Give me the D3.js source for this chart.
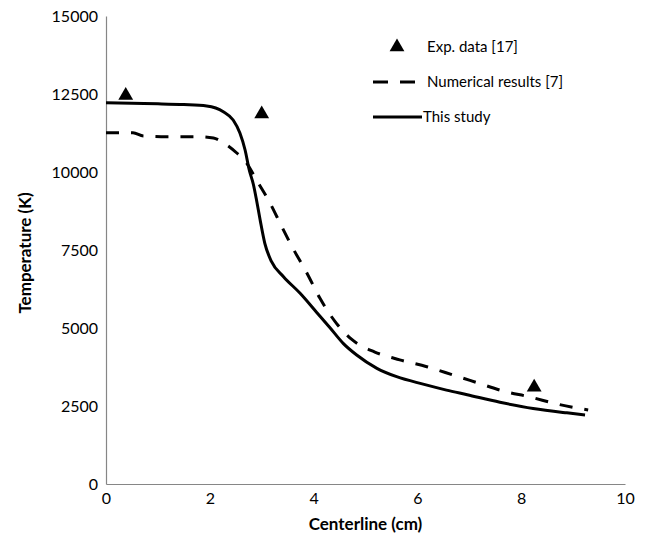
<!DOCTYPE html>
<html>
<head>
<meta charset="utf-8">
<script src="https://cdn.jsdelivr.net/npm/d3@7"></script>
<style>
  body { margin: 0; background: #fff; }
  text { font-family: Lato, "Open Sans", sans-serif; fill: #000; }
</style>
</head>
<body>
<script>
//chart data
var studyX = [0, 0.5, 1.0, 1.5, 1.94, 2.26, 2.45, 2.58, 2.68, 2.76, 2.84, 2.90, 2.97, 3.06, 3.19, 3.42, 3.74, 4.06, 4.32, 4.57, 4.83, 5.22, 5.60, 6.11, 6.56, 6.96, 7.59, 8.23, 8.88, 9.23];
var studyY = [12221, 12200, 12185, 12160, 12115, 11932, 11666, 11249, 10705, 10064, 9600, 9102, 8461, 7714, 7125, 6644, 6112, 5500, 5000, 4508, 4134, 3708, 3439, 3200, 3010, 2860, 2620, 2420, 2280, 2215];

var numX = [0, 0.52, 0.72, 1.17, 1.81, 2.07, 2.26, 2.52, 2.71, 2.90, 3.16, 3.39, 3.60, 3.87, 4.12, 4.44, 4.73, 5.18, 5.66, 6.18, 6.69, 7.17, 7.65, 8.17, 8.69, 9.29];
var numY = [11259, 11259, 11153, 11130, 11130, 11089, 10939, 10609, 10288, 9743, 9006, 8237, 7560, 6763, 5960, 5150, 4640, 4230, 3980, 3760, 3493, 3237, 2981, 2788, 2564, 2372];

var expX = [0.38, 3.0, 8.25];
var expY = [12450, 11860, 3100];

var xTicks = [0, 2, 4, 6, 8, 10];
var yTicks = [0, 2500, 5000, 7500, 10000, 12500, 15000];

var legendLabels = ["Exp. data [17]", "Numerical results [7]", "This study"];

var width = 648, height = 542;
var margin = {left: 106, right: 23, top: 16, bottom: 58};

var svg = d3.select("body").append("svg")
    .attr("width", width)
    .attr("height", height);

var x = d3.scaleLinear().domain([0, 10]).range([margin.left, width - margin.right]);
var y = d3.scaleLinear().domain([0, 15000]).range([height - margin.bottom, margin.top]);

//axes, no tick marks
var xAxis = svg.append("g")
    .attr("transform", "translate(0," + y(0) + ")")
    .call(d3.axisBottom(x).tickValues(xTicks).tickSize(0).tickPadding(6));
var yAxis = svg.append("g")
    .attr("transform", "translate(" + x(0) + ",0)")
    .call(d3.axisLeft(y).tickValues(yTicks).tickSize(0).tickPadding(8).tickFormat(d3.format("d")));

[xAxis, yAxis].forEach(function(a){
  a.select(".domain").attr("stroke", "#868686").attr("stroke-width", 1.2);
  a.selectAll("text").style("font-size", "16px").attr("fill", "#000");
});
xAxis.selectAll("text").attr("dy", "0.9em");

//axis titles
svg.append("text")
    .attr("x", (x(0) + x(10)) / 2)
    .attr("y", 530)
    .attr("text-anchor", "middle")
    .style("font-size", "17px")
    .style("font-weight", "bold")
    .text("Centerline (cm)");

svg.append("text")
    .attr("transform", "translate(31," + 253 + ") rotate(-90)")
    .attr("text-anchor", "middle")
    .style("font-size", "17px")
    .style("font-weight", "bold")
    .text("Temperature (K)");

var line = d3.line()
    .x(function(d){ return x(d[0]); })
    .y(function(d){ return y(d[1]); })
    .curve(d3.curveMonotoneX);

var numData = numX.map(function(v, i){ return [v, numY[i]]; });
var studyData = studyX.map(function(v, i){ return [v, studyY[i]]; });
var expData = expX.map(function(v, i){ return [v, expY[i]]; });

svg.append("path")
    .datum(numData)
    .attr("d", line)
    .attr("fill", "none")
    .attr("stroke", "#000")
    .attr("stroke-width", 3)
    .attr("stroke-dasharray", "13,12");

svg.append("path")
    .datum(studyData)
    .attr("d", line)
    .attr("fill", "none")
    .attr("stroke", "#000")
    .attr("stroke-width", 3);

var tri = d3.symbol().type(d3.symbolTriangle).size(95);

svg.selectAll(".exp")
    .data(expData)
    .enter()
    .append("path")
    .attr("class", "exp")
    .attr("d", tri)
    .attr("transform", function(d){ return "translate(" + x(d[0]) + "," + y(d[1]) + ")"; })
    .attr("fill", "#000");

//legend
var legend = svg.append("g");
legend.append("path")
    .attr("d", tri)
    .attr("transform", "translate(397,47)")
    .attr("fill", "#000");
legend.append("line")
    .attr("x1", 373).attr("x2", 416).attr("y1", 82).attr("y2", 82)
    .attr("stroke", "#000").attr("stroke-width", 3)
    .attr("stroke-dasharray", "15,12");
legend.append("line")
    .attr("x1", 373).attr("x2", 422).attr("y1", 117).attr("y2", 117)
    .attr("stroke", "#000").attr("stroke-width", 3);

var legendX = [427, 427, 423];
var legendY = [47, 82, 117];
legend.selectAll(".lab")
    .data(legendLabels)
    .enter()
    .append("text")
    .attr("class", "lab")
    .attr("x", function(d, i){ return legendX[i]; })
    .attr("y", function(d, i){ return legendY[i]; })
    .attr("dy", "0.35em")
    .style("font-size", "15px")
    .text(function(d){ return d; });
</script>
</body>
</html>
